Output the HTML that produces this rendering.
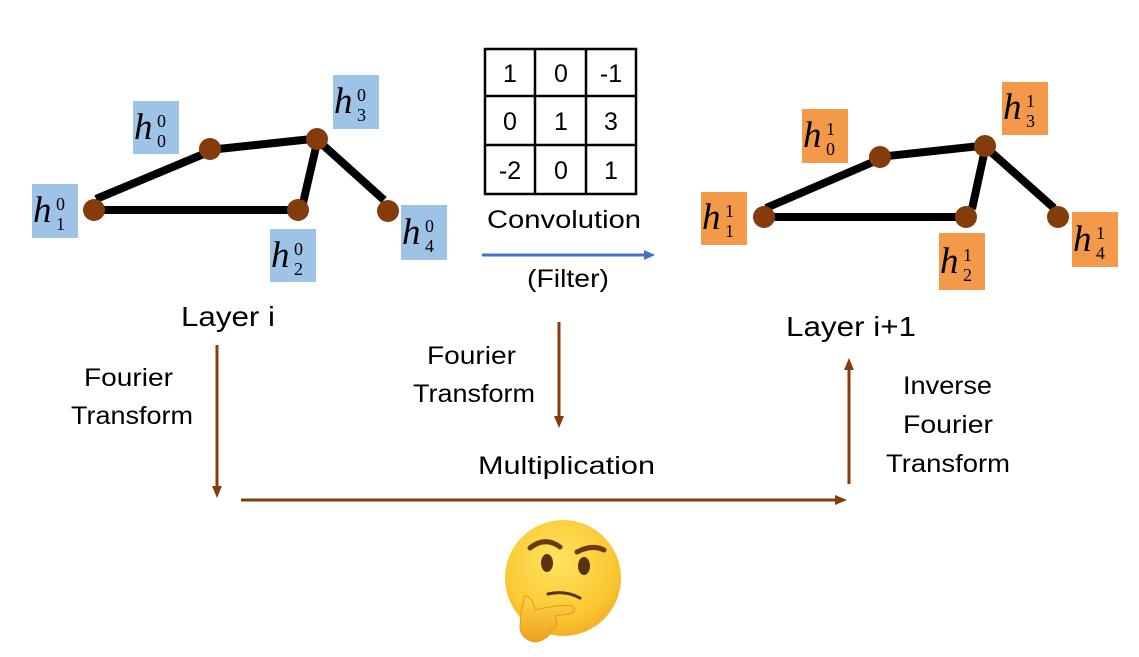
<!DOCTYPE html>
<html><head><meta charset="utf-8"><style>
html,body{margin:0;padding:0;background:#fff;}
svg{display:block;}
.t{font-family:"Liberation Sans",sans-serif;font-size:25px;fill:#000;}
.h{font-family:"Liberation Serif",serif;font-style:italic;font-size:37px;fill:#000;}
.s{font-family:"Liberation Serif",serif;font-size:18px;fill:#000;}
</style></head><body>
<svg width="1139" height="657" viewBox="0 0 1139 657" xmlns="http://www.w3.org/2000/svg">
<defs>
<radialGradient id="fg" cx="0.45" cy="0.35" r="0.75">
<stop offset="0" stop-color="#fde460"/><stop offset="0.65" stop-color="#fbc832"/><stop offset="1" stop-color="#f0a420"/>
</radialGradient>
<linearGradient id="hg" x1="0" y1="0" x2="0" y2="1"><stop offset="0" stop-color="#fcd44a"/><stop offset="1" stop-color="#eea21c"/></linearGradient>
</defs>

<g stroke="#000" stroke-width="8">
<line x1="96" y1="199" x2="206" y2="153"/>
<line x1="100" y1="210" x2="292" y2="210"/>
<line x1="218" y1="149" x2="312" y2="139"/>
<line x1="316" y1="147" x2="303" y2="203"/>
<line x1="323" y1="145" x2="384" y2="200"/>
</g>
<g fill="#843c0c">
<circle cx="94" cy="210" r="11"/><circle cx="210" cy="149" r="11"/><circle cx="317" cy="139" r="11"/><circle cx="298" cy="210" r="11"/><circle cx="388" cy="211" r="11"/>
</g>
<g fill="#9dc3e6">
<rect x="133" y="101" width="46" height="53"/>
<rect x="333" y="75" width="46" height="54"/>
<rect x="32" y="184" width="46" height="54"/>
<rect x="270" y="229" width="46" height="53"/>
<rect x="401" y="205" width="46" height="55"/>
</g>
<g stroke="#000" stroke-width="8">
<line x1="766" y1="208" x2="873" y2="162"/>
<line x1="770" y1="217" x2="960" y2="217"/>
<line x1="888" y1="156" x2="980" y2="146"/>
<line x1="984" y1="154" x2="972" y2="209"/>
<line x1="991" y1="152" x2="1054" y2="208"/>
</g>
<g fill="#843c0c">
<circle cx="764" cy="217" r="11"/><circle cx="880" cy="157" r="11"/><circle cx="985" cy="146" r="11"/><circle cx="966" cy="217" r="11"/><circle cx="1058" cy="217" r="11"/>
</g>
<g fill="#f4984a">
<rect x="802" y="109" width="46" height="54"/>
<rect x="1002" y="82" width="46" height="53"/>
<rect x="701" y="192" width="46" height="53"/>
<rect x="939" y="233" width="46" height="57"/>
<rect x="1072" y="212" width="46" height="55"/>
</g>

<g>
<text class="h" x="134" y="139">h</text><text class="s" x="157" y="127">0</text><text class="s" x="157" y="147">0</text>
<text class="h" x="334" y="113">h</text><text class="s" x="357" y="101">0</text><text class="s" x="357" y="121">3</text>
<text class="h" x="33" y="222">h</text><text class="s" x="56" y="210">0</text><text class="s" x="56" y="230">1</text>
<text class="h" x="271" y="267">h</text><text class="s" x="294" y="255">0</text><text class="s" x="294" y="275">2</text>
<text class="h" x="402" y="244">h</text><text class="s" x="425" y="232">0</text><text class="s" x="425" y="252">4</text>

<text class="h" x="803" y="147">h</text><text class="s" x="826" y="135">1</text><text class="s" x="826" y="155">0</text>
<text class="h" x="1003" y="119">h</text><text class="s" x="1026" y="107">1</text><text class="s" x="1026" y="127">3</text>
<text class="h" x="702" y="229">h</text><text class="s" x="725" y="217">1</text><text class="s" x="725" y="237">1</text>
<text class="h" x="940" y="273">h</text><text class="s" x="963" y="261">1</text><text class="s" x="963" y="281">2</text>
<text class="h" x="1073" y="251">h</text><text class="s" x="1096" y="239">1</text><text class="s" x="1096" y="259">4</text>
</g>

<g stroke="#000" stroke-width="2.5" fill="none">
<rect x="485" y="49" width="151" height="145"/>
<line x1="535" y1="49" x2="535" y2="194"/><line x1="586" y1="49" x2="586" y2="194"/>
<line x1="485" y1="96" x2="636" y2="96"/><line x1="485" y1="145" x2="636" y2="145"/>
</g>
<g class="t" text-anchor="middle" style="font-size:25px">
<text x="510" y="82">1</text><text x="561" y="82">0</text><text x="611" y="82">-1</text>
<text x="510" y="130">0</text><text x="561" y="130">1</text><text x="611" y="130">3</text>
<text x="510" y="179">-2</text><text x="561" y="179">0</text><text x="611" y="179">1</text>
</g>

<text class="t" x="487" y="228" textLength="154" lengthAdjust="spacingAndGlyphs">Convolution</text>
<text class="t" x="527" y="287" textLength="82" lengthAdjust="spacingAndGlyphs">(Filter)</text>
<text class="t" x="181" y="326" textLength="94" lengthAdjust="spacingAndGlyphs" style="font-size:28px">Layer i</text>
<text class="t" x="786" y="336" textLength="130" lengthAdjust="spacingAndGlyphs" style="font-size:28px">Layer i+1</text>
<text class="t" x="84" y="386" textLength="89" lengthAdjust="spacingAndGlyphs">Fourier</text>
<text class="t" x="71" y="424" textLength="122" lengthAdjust="spacingAndGlyphs">Transform</text>
<text class="t" x="427" y="364" textLength="89" lengthAdjust="spacingAndGlyphs">Fourier</text>
<text class="t" x="413" y="402" textLength="122" lengthAdjust="spacingAndGlyphs">Transform</text>
<text class="t" x="478" y="474" textLength="177" lengthAdjust="spacingAndGlyphs">Multiplication</text>
<text class="t" x="903" y="394" textLength="89" lengthAdjust="spacingAndGlyphs">Inverse</text>
<text class="t" x="903" y="433" textLength="90" lengthAdjust="spacingAndGlyphs">Fourier</text>
<text class="t" x="886" y="472" textLength="124" lengthAdjust="spacingAndGlyphs">Transform</text>

<line x1="482" y1="255" x2="645" y2="255" stroke="#4472c4" stroke-width="3"/>
<polygon points="644,250 655,255 644,260" fill="#4472c4"/>
<g stroke="#843c0c" stroke-width="3">
<line x1="217" y1="345" x2="217" y2="488"/>
<line x1="559" y1="322" x2="559" y2="418"/>
<line x1="241" y1="500" x2="837" y2="500"/>
<line x1="849" y1="484" x2="849" y2="368"/>
</g>
<g fill="#843c0c">
<polygon points="212,486 222,486 217,498"/>
<polygon points="554,416 564,416 559,428"/>
<polygon points="835,495 847,500 835,505"/>
<polygon points="844,370 854,370 849,358"/>
</g>

<g>
<circle cx="563" cy="578" r="58" fill="url(#fg)"/>
<path d="M530 548 Q545 536 560 547" stroke="#6b3a12" stroke-width="5" fill="none" stroke-linecap="round"/>
<path d="M577 552 Q592 544 604 550" stroke="#6b3a12" stroke-width="5" fill="none" stroke-linecap="round"/>
<ellipse cx="547" cy="563" rx="6" ry="9" fill="#5a3210"/>
<ellipse cx="584" cy="566" rx="6" ry="9" fill="#5a3210"/>
<path d="M548 594 Q565 590 580 598" stroke="#5a3210" stroke-width="3" fill="none" stroke-linecap="round"/>
<path d="M525 596 Q533 597 535 610 Q560 604 572 606 Q578 610 570 614 L555 616 Q560 625 552 630 Q548 640 535 642 Q522 640 520 628 Q520 612 525 596 Z" fill="url(#hg)" stroke="#e29a18" stroke-width="1"/>
</g>
</svg>
</body></html>
